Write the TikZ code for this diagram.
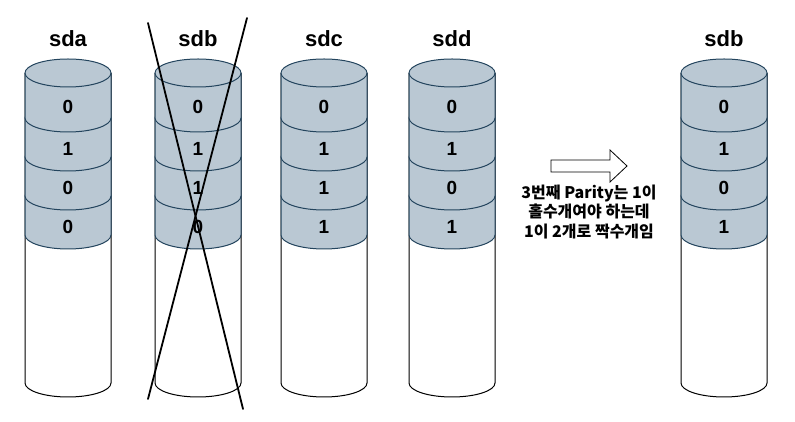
\documentclass[tikz,border=0pt]{standalone}
\usepackage{fontspec}
\setmainfont{Liberation Sans}
\newfontfamily\korfont{Noto Sans CJK KR}
\definecolor{diskfill}{HTML}{BAC8D3}
\definecolor{diskline}{HTML}{23445D}

% one drive: x centre, id, title, four bits (top to bottom)
\newcommand{\diskcolumn}[7]{%
  % empty body
  \draw[bodyline] (#1-43,349) -- (#1-43,39)
    arc[start angle=180, end angle=360, x radius=43, y radius=14] -- (#1+43,349);
  % stacked disks, lowest first
  \foreach \ytop/\ybot in {226/187, 265/226, 304/265, 349/304}
    \filldraw[disk] (#1-43,\ytop) -- (#1-43,\ybot)
      arc[start angle=180, end angle=360, x radius=43, y radius=14] -- (#1+43,\ytop)
      arc[start angle=0, end angle=180, x radius=43, y radius=14] -- cycle;
  \draw[disk] (#1-43,349) arc[start angle=180, end angle=360, x radius=43, y radius=14];
  % labels
  \node[title] (#2) at (#1,375) {#3};
  \node[bit] (#2-1) at (#1,308) {#4};
  \node[bit] (#2-2) at (#1,266) {#5};
  \node[bit] (#2-3) at (#1,227) {#6};
  \node[bit] (#2-4) at (#1,188) {#7};
}

\begin{document}
\begin{tikzpicture}[x=1pt, y=1pt,
    bodyline/.style={draw=black, fill=white, line width=1pt},
    disk/.style={draw=diskline, fill=diskfill, line width=1pt},
    title/.style={anchor=base, inner sep=0pt, font=\fontsize{22}{24}\selectfont\bfseries},
    bit/.style={anchor=base, inner sep=0pt, font=\fontsize{19}{22}\selectfont\bfseries},
    cross/.style={line width=1.8pt, line cap=round},
    blockarrow/.style={draw=black, fill=white, line width=0.8pt},
    note/.style={align=center, inner sep=0pt, font=\korfont\bfseries\fontsize{16}{19.5}\selectfont}]
  \useasboundingbox (0,0) rectangle (795,422);

  % Drives
  \diskcolumn{68}{sda}{sda}{0}{1}{0}{0}
  \diskcolumn{198}{sdb}{sdb}{0}{1}{1}{0}
  \diskcolumn{324}{sdc}{sdc}{0}{1}{1}{1}
  \diskcolumn{452}{sdd}{sdd}{0}{1}{0}{1}
  \diskcolumn{724}{sdbnew}{sdb}{0}{1}{0}{1}

  % Failed drive
  \coordinate (xa1) at (148,399);
  \coordinate (xa2) at (243,13);
  \coordinate (xb1) at (247,404);
  \coordinate (xb2) at (148,23);
  \draw[cross] (xa1) -- (xa2);
  \draw[cross] (xb1) -- (xb2);

  % Rebuild arrow
  \draw[blockarrow] (551,262) -- (610,262) -- (610,272) -- (627,256)
    -- (610,240) -- (610,250) -- (551,250) -- cycle;
  \node[note] (parity) at (589,210)
    {3번째 Parity는 1이\\홀수개여야 하는데\\1이 2개로 짝수개임};
\end{tikzpicture}
\end{document}
